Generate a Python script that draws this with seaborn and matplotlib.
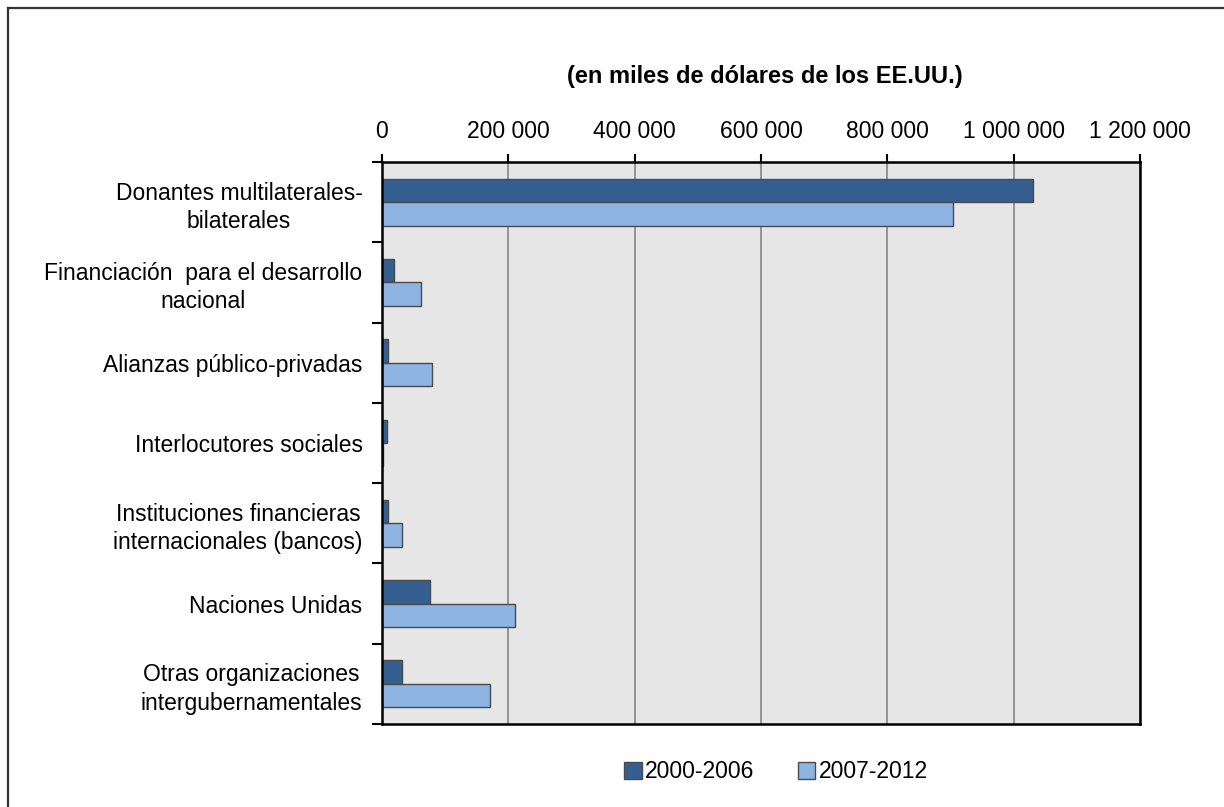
import matplotlib
matplotlib.use("Agg")
import matplotlib.pyplot as plt
from matplotlib.lines import Line2D
from matplotlib.ticker import FuncFormatter, FixedLocator
import pandas as pd
import seaborn as sns

# Data (miles de dólares de los EE.UU.)
categories = [
    "Donantes multilaterales-\nbilaterales",
    "Financiación  para el desarrollo\nnacional",
    "Alianzas público-privadas",
    "Interlocutores sociales",
    "Instituciones financieras\ninternacionales (bancos)",
    "Naciones Unidas",
    "Otras organizaciones\nintergubernamentales",
]
periods = ["2000-2006", "2007-2012"]
vals_2000_2006 = [1030000, 19500, 9500, 7400, 9500, 76000, 31700]
vals_2007_2012 = [904000, 61200, 78600, 2000, 31700, 211000, 171000]
x_ticks = [0, 200000, 400000, 600000, 800000, 1000000, 1200000]

df = pd.DataFrame({
    "cat": categories * 2,
    "period": [periods[0]] * len(categories) + [periods[1]] * len(categories),
    "value": vals_2000_2006 + vals_2007_2012,
})

plt.rcParams["font.family"] = ["Liberation Sans", "DejaVu Sans"]

fig = plt.figure(figsize=(12.24, 8.07), dpi=100)
ax = fig.add_axes([382 / 1224, 1 - 724 / 807, (1140 - 382) / 1224, (724 - 162) / 807])
ax.set_facecolor("#e6e6e6")

sns.barplot(data=df, y="cat", x="value", hue="period", hue_order=periods,
            order=categories, orient="h", width=0.585, saturation=1,
            palette=["#355e91", "#8eb4e3"], edgecolor="#4a4a4a", linewidth=1.0,
            ax=ax)

ax.set_xlim(0, 1200000)
ax.set_ylim(len(categories) - 0.5, -0.5)
ax.xaxis.tick_top()
ax.xaxis.set_major_locator(FixedLocator(x_ticks))
ax.xaxis.set_major_formatter(FuncFormatter(lambda v, p: f"{int(v):,}".replace(",", " ")))
ax.tick_params(axis="x", direction="out", length=6, width=1.5, pad=8, labelsize=16.5, color="black")
ax.tick_params(axis="y", which="major", length=0, pad=14, labelsize=16.5)
ax.yaxis.set_minor_locator(FixedLocator([i - 0.5 for i in range(len(categories) + 1)]))
ax.tick_params(axis="y", which="minor", direction="out", length=7, width=1.5)
for lab in ax.get_yticklabels():
    lab.set_multialignment("center")
    lab.set_linespacing(1.3)

ax.set_axisbelow(True)
ax.grid(axis="x", color="#8c8c8c", linewidth=1.3)
ax.grid(axis="y", visible=False)
for s in ax.spines.values():
    s.set_color("black")
    s.set_linewidth(1.8)
ax.set_xlabel("")
ax.set_ylabel("")

handles, labels = ax.get_legend_handles_labels()
ax.get_legend().remove()
fig.legend(handles, labels, loc="center", bbox_to_anchor=(0.634, 1 - 772 / 807),
           ncol=2, frameon=False, fontsize=16.5, handlelength=0.75, handleheight=0.75,
           handletextpad=0.15, columnspacing=1.9)

fig.text(0.625, 1 - 77 / 807, "(en miles de dólares de los EE.UU.)",
         ha="center", va="center", fontsize=17, fontweight="bold")

# outer frame (top and left edges visible in the reference)
fig.add_artist(Line2D([8 / 1224, 1], [1 - 8 / 807, 1 - 8 / 807], color="#333333", linewidth=1.6))
fig.add_artist(Line2D([8 / 1224, 8 / 1224], [0, 1 - 8 / 807], color="#333333", linewidth=1.6))

fig.savefig("out.png", dpi=100)
